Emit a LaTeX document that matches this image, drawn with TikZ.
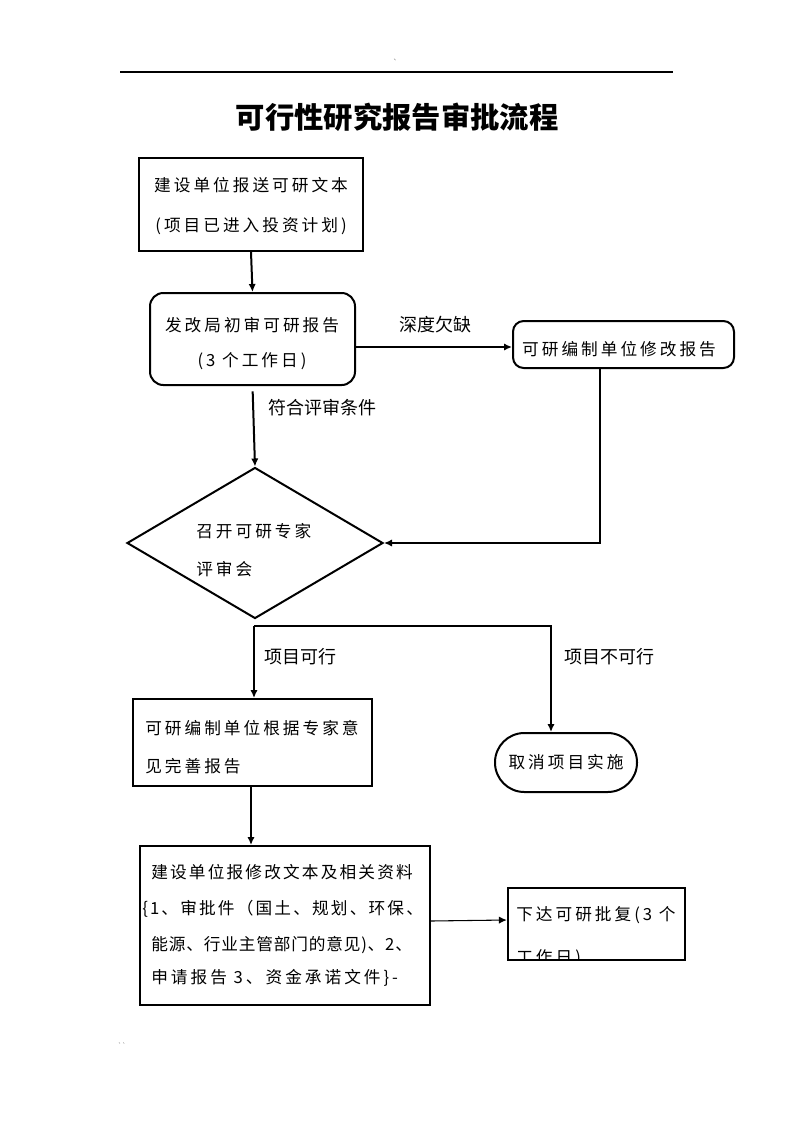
\documentclass[tikz,border=0pt]{standalone}
\usepackage{fontspec}
\usetikzlibrary{shapes.geometric,fit,arrows.meta}
\newfontfamily\cjk[LetterSpace=18]{Noto Sans CJK SC}
\newfontfamily\cjkm[LetterSpace=13]{Noto Sans CJK SC}
\newfontfamily\cjkt[LetterSpace=5]{Noto Sans CJK SC}
\newfontfamily\cjkn{Noto Sans CJK SC}
\begin{document}
\begin{tikzpicture}[x=0.75pt,y=-0.75pt,
  box/.style={draw, line width=1.5pt, inner sep=0pt},
  rbox/.style={box, rounded corners=8pt},
  txt/.style={inner sep=0pt, font=\cjk\fontsize{12.5pt}{14pt}\selectfont},
  txtm/.style={inner sep=0pt, font=\cjkm\fontsize{12.5pt}{14pt}\selectfont},
  txtt/.style={inner sep=0pt, font=\cjkt\fontsize{12.5pt}{14pt}\selectfont},
  lbl/.style={inner sep=0pt, font=\cjkn\fontsize{13.5pt}{15pt}\selectfont},
  conn/.style={line width=1.5pt},
  arr/.style={conn, -{Latex[length=6pt,width=5.5pt]}},
  thinarr/.style={line width=0.8pt, -{Latex[length=6pt,width=5.5pt]}},
]
\useasboundingbox (0,0) rectangle (793,1122);
\fill[white] (0,0) rectangle (793,1122);

% header
\coordinate (hl) at (120,72);
\coordinate (hr) at (673,72);
\draw[line width=0.8pt] (hl) -- (hr);
\node[inner sep=0pt, text=gray, font=\cjkn\fontsize{5pt}{6pt}\selectfont] (mk1) at (397,60) {、};
\node[inner sep=0pt, text=gray, font=\cjkn\fontsize{5pt}{6pt}\selectfont] (mk2) at (122,1046) {``};
\node[inner sep=0pt, font=\cjkn\bfseries\fontsize{22pt}{24pt}\selectfont] (title) at (397,117) {可行性研究报告审批流程};

% shapes
\node[box, fit={(139,158)(363,251)}] (b1) {};
\node[box, rounded corners=10pt, fit={(150,293)(355,385)}] (b2) {};
\node[rbox, fit={(513,321)(734,368)}] (b3) {};
\node[draw, line width=1.5pt, shape=diamond, minimum width=192pt, minimum height=113.25pt, inner sep=0pt] (dia) at (255,543) {};
\node[box, fit={(133,699)(372,786)}] (b4) {};
\node[box, rounded corners=22pt, fit={(495,733)(637,792)}] (oval) {};
\node[box, fit={(140,846)(430,1005)}] (b5) {};
\node[box, line width=1.8pt, fit={(508,888)(685,960)}] (b6) {};

% texts
\node[txt] (t1a) at (251,185) {建设单位报送可研文本};
\node[txt] (t1b) at (251,226) {(项目已进入投资计划)};
\node[txt] (t2a) at (252,325) {发改局初审可研报告};
\node[txt] (t2b) at (252,361) {(3 个工作日)};
\node[txt] (t3) at (619,349) {可研编制单位修改报告};
\node[txt, anchor=west] (td1) at (196,531) {召开可研专家};
\node[txt, anchor=west] (td2) at (196,569) {评审会};
\node[txt, anchor=west] (t4a) at (145,728) {可研编制单位根据专家意};
\node[txt, anchor=west] (t4b) at (145,766) {见完善报告};
\node[txt] (to) at (566,762) {取消项目实施};
\node[txtm, anchor=west] (t5a) at (151,872) {建设单位报修改文本及相关资料};
\node[txtm, anchor=west] (t5b) at (142,909) {\{1、审批件（国土、规划、环保、};
\node[txtt, anchor=west] (t5c) at (151,945) {能源、行业主管部门的意见)、2、};
\node[txt, anchor=west] (t5d) at (151,978) {申请报告 3、资金承诺文件\}-};
\node[txt, anchor=west] (t6a) at (516,915) {下达可研批复(3 个};
\begin{scope}
  \clip (509,889) rectangle (684,959);
  \node[txt, anchor=west] (t6b) at (516,958) {工作日)};
\end{scope}

% labels
\node[lbl] (l1) at (435,325) {深度欠缺};
\node[lbl] (l2) at (322,408) {符合评审条件};
\node[lbl] (l3) at (300,657) {项目可行};
\node[lbl] (l4) at (609,657) {项目不可行};

% connectors
\draw[arr] (b1.south) -- (b2.north);
\draw[arr] (b2.east |- 0,347) -- (b3.west |- 0,347);
\draw[arr, shorten <=4pt] (b2.south) -- (dia.north);
\draw[arr] ([xshift=-17.6pt]b3.south) |- (dia.east);
\coordinate (split) at (254,626);
\coordinate (nf) at (551,626);
\draw[arr] (split) -- (split |- b4.north);
\draw[arr] (split) -- (nf) -- (nf |- oval.north);
\draw[arr] (b4.south -| 251,0) -- (b5.north -| 251,0);
\draw[thinarr] (b5.east |- 0,921) -- (b6.west |- 0,920);
\end{tikzpicture}
\end{document}
